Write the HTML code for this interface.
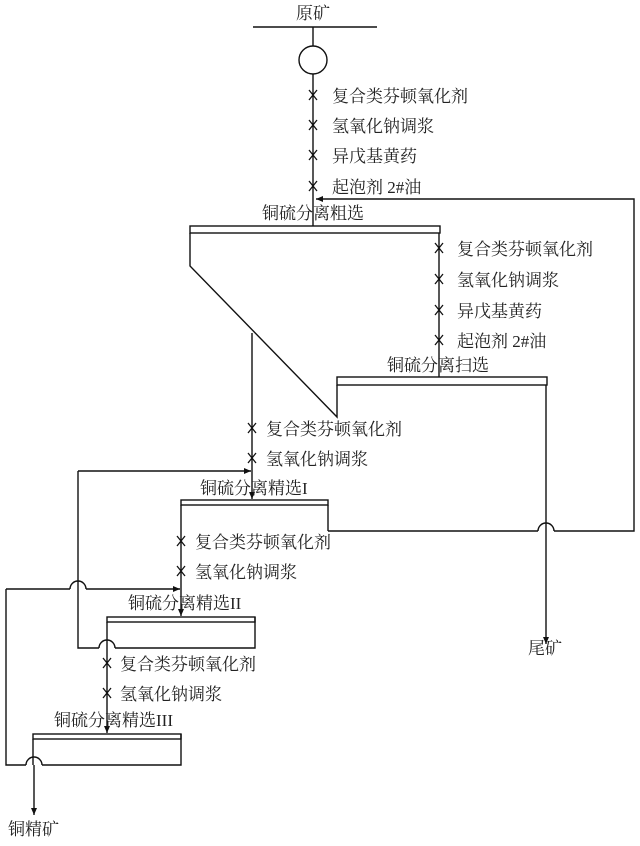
<!DOCTYPE html>
<html><head><meta charset="utf-8"><style>
html,body{margin:0;padding:0;background:#fff;}
svg text{font-family:"Liberation Serif","Noto Serif CJK SC",serif;font-size:17px;fill:#222;}
</style></head><body>
<svg width="640" height="841" viewBox="0 0 640 841" xmlns="http://www.w3.org/2000/svg">
<defs>
<marker id="a" markerWidth="8" markerHeight="8" refX="7" refY="4" orient="auto" markerUnits="userSpaceOnUse">
<path d="M0,1 L7,4 L0,7 Z" fill="#111"/></marker>
<g id="x"><path d="M-4,-5 L4,5 M4,-5 L-4,5" stroke="#111" stroke-width="1.3"/></g>
</defs>
<g fill="none" stroke="#111" stroke-width="1.4">
<line x1="253" y1="27" x2="377" y2="27"/>
<line x1="313" y1="27" x2="313" y2="46"/>
<circle cx="313" cy="60" r="14"/>
<line x1="313" y1="74" x2="313" y2="226"/>
<polyline points="328,531 538,531"/>
<path d="M538,531 A8,8 0 0 1 554,531"/>
<polyline points="554,531 634,531 634,199 316,199" marker-end="url(#a)"/>
<rect x="190" y="226" width="250" height="7"/>
<polyline points="190,233 190,266 337,417 337,385"/>
<line x1="439" y1="233" x2="439" y2="377"/>
<rect x="337" y="377" width="210" height="8"/>
<line x1="546" y1="385" x2="546" y2="644" marker-end="url(#a)"/>
<line x1="252" y1="333" x2="252" y2="499" marker-end="url(#a)"/>
<rect x="181" y="500" width="147" height="5"/>
<line x1="328" y1="505" x2="328" y2="531"/>
<line x1="181" y1="505" x2="181" y2="616" marker-end="url(#a)"/>
<line x1="78" y1="471" x2="251" y2="471" marker-end="url(#a)"/>
<polyline points="78,471 78,648 99,648"/>
<path d="M99,648 A8,8 0 0 1 115,648"/>
<polyline points="115,648 255,648 255,617"/>
<rect x="107" y="617" width="148" height="5"/>
<line x1="107" y1="622" x2="107" y2="733" marker-end="url(#a)"/>
<line x1="6" y1="589" x2="70" y2="589"/>
<path d="M70,589 A8,8 0 0 1 86,589"/>
<line x1="86" y1="589" x2="180" y2="589" marker-end="url(#a)"/>
<polyline points="6,589 6,765 26,765"/>
<path d="M26,765 A8,8 0 0 1 42,765"/>
<polyline points="42,765 181,765 181,734"/>
<rect x="33" y="734" width="148" height="5"/>
<line x1="33" y1="739" x2="33" y2="765"/>
<line x1="34" y1="765" x2="34" y2="815" marker-end="url(#a)"/>
</g>
<g>
<use href="#x" x="313" y="95"/><use href="#x" x="313" y="125"/><use href="#x" x="313" y="155"/><use href="#x" x="313" y="186"/>
<use href="#x" x="439" y="248"/><use href="#x" x="439" y="279"/><use href="#x" x="439" y="310"/><use href="#x" x="439" y="340"/>
<use href="#x" x="252" y="428"/><use href="#x" x="252" y="458"/>
<use href="#x" x="181" y="541"/><use href="#x" x="181" y="571"/>
<use href="#x" x="107" y="663"/><use href="#x" x="107" y="693"/>
</g>
<text x="296" y="19">原矿</text>
<text x="332" y="102">复合类芬顿氧化剂</text>
<text x="332" y="132">氢氧化钠调浆</text>
<text x="332" y="162">异戊基黄药</text>
<text x="332" y="193">起泡剂 2#油</text>
<text x="262" y="219">铜硫分离粗选</text>
<text x="457" y="255">复合类芬顿氧化剂</text>
<text x="457" y="286">氢氧化钠调浆</text>
<text x="457" y="317">异戊基黄药</text>
<text x="457" y="347">起泡剂 2#油</text>
<text x="387" y="371">铜硫分离扫选</text>
<text x="266" y="435">复合类芬顿氧化剂</text>
<text x="266" y="465">氢氧化钠调浆</text>
<text x="200" y="494">铜硫分离精选I</text>
<text x="195" y="548">复合类芬顿氧化剂</text>
<text x="195" y="578">氢氧化钠调浆</text>
<text x="128" y="609">铜硫分离精选II</text>
<text x="120" y="670">复合类芬顿氧化剂</text>
<text x="120" y="700">氢氧化钠调浆</text>
<text x="54" y="726">铜硫分离精选III</text>
<text x="528" y="654">尾矿</text>
<text x="8" y="835">铜精矿</text>
</svg>
</body></html>
